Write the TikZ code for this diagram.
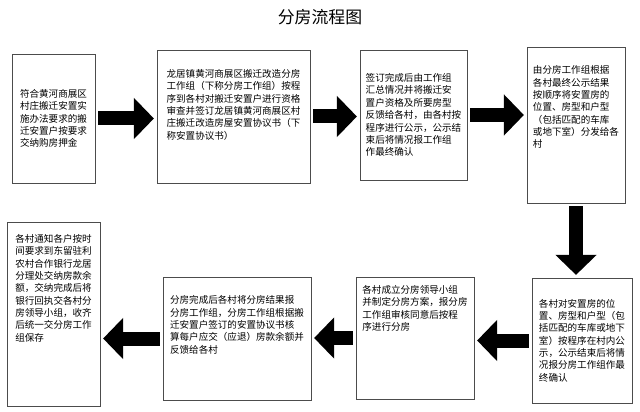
\documentclass[tikz,border=0pt]{standalone}
\usepackage{fontspec}
\setmainfont{Noto Sans CJK SC}
\usetikzlibrary{arrows.meta}
\tikzset{
  etape/.style={draw=black!70,fill=white,align=left,inner sep=1pt,font=\fontsize{6.8}{8.8}\selectfont},
  fleche/.style={line width=3.5mm,-{Triangle[length=5mm,width=10mm]},shorten <=2pt,shorten >=2pt}
}
\begin{document}
\begin{tikzpicture}
\useasboundingbox (0,0) rectangle (16,10.275);

\node (titre) at (8,9.85) {\fontsize{12}{14}\selectfont 分房流程图};

\node[etape,minimum width=2.075cm,minimum height=3.225cm] (depot) at (1.3375,7.3125)
  {符合黄河商展区\\村庄搬迁安置实\\施办法要求的搬\\迁安置户按要求\\交纳购房押金};%le depot
\node[etape,minimum width=3.825cm,minimum height=3.325cm] (accord) at (5.8375,7.3625)
  {龙居镇黄河商展区搬迁改造分房\\工作组（下称分房工作组）按程\\序到各村对搬迁安置户进行资格\\审查并签订龙居镇黄河商展区村\\庄搬迁改造房屋安置协议书（下\\称安置协议书）\\[3mm]};
\node[etape,minimum width=2.675cm,minimum height=3.25cm] (bilan) at (10.3375,7.4)
  {签订完成后由工作组\\汇总情况并将搬迁安\\置户资格及所要房型\\反馈给各村，由各村按\\程序进行公示，公示结\\束后将情况报工作组\\作最终确认};
\node[etape,minimum width=2.45cm,minimum height=3.9cm] (envoi) at (14.4,7.15)
  {由分房工作组根据\\各村最终公示结果\\按顺序将安置房的\\位置、房型和户型\\（包括匹配的车库\\或地下室）分发给各\\村\\[6mm]};
\node[etape,minimum width=2.5cm,minimum height=3.125cm] (affiche) at (14.55,1.7625)
  {各村对安置房的位\\置、房型和户型（包\\括匹配的车库或地下\\室）按程序在村内公\\示，公示结束后将情\\况报分房工作组作最\\终确认};
\node[etape,minimum width=2.95cm,minimum height=3.05cm] (groupe) at (10.375,1.825)
  {各村成立分房领导小组\\并制定分房方案，报分房\\工作组审核同意后按程\\序进行分房\\[12mm]};
\node[etape,minimum width=3.7cm,minimum height=3.075cm] (solde) at (5.925,1.8125)
  {分房完成后各村将分房结果报\\分房工作组，分房工作组根据搬\\迁安置户签订的安置协议书核\\算每户应交（应退）房款余额并\\反馈给各村\\[4mm]};
\node[etape,minimum width=2.325cm,minimum height=4.6cm] (banque) at (1.3375,2.425)
  {各村通知各户按时\\间要求到东留驻利\\农村合作银行龙居\\分理处交纳房款余\\额，交纳完成后将\\银行回执交各村分\\房领导小组，收齐\\后统一交分房工作\\组保存\\[10mm]};

\draw[fleche] (depot.east) -- (depot.east -| accord.west);%haut
\draw[fleche] (accord.east) -- (accord.east -| bilan.west);
\draw[fleche] (bilan.east) -- (bilan.east -| envoi.west);
\draw[fleche] (envoi.south) -- (envoi.south |- affiche.north);%descente
\draw[fleche] (affiche.west) -- (affiche.west -| groupe.east);%bas
\draw[fleche] (groupe.west) -- (groupe.west -| solde.east);
\draw[fleche] (solde.west) -- (solde.west -| banque.east);

\end{tikzpicture}
\end{document}
